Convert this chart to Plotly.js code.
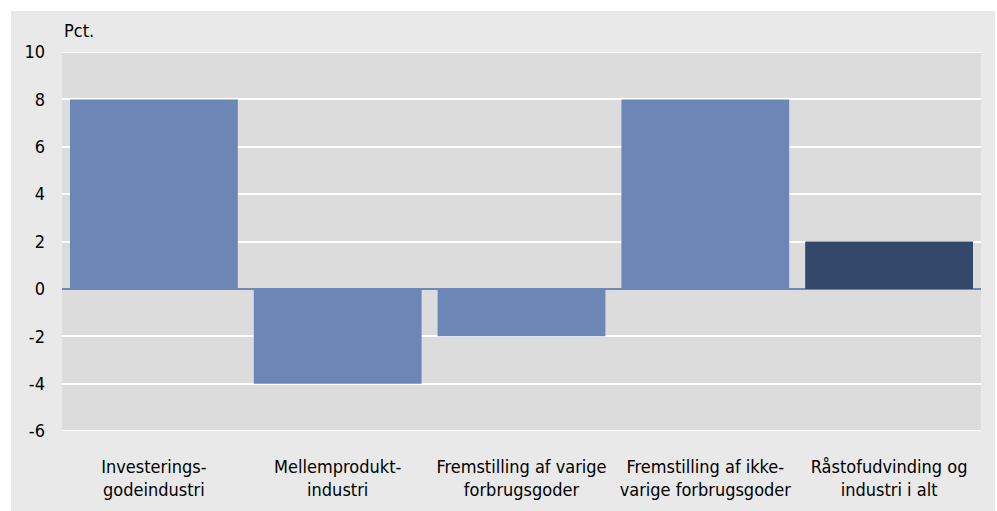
<!DOCTYPE html>
<html><head><meta charset="utf-8">
<script src="https://cdn.plot.ly/plotly-3.0.1.min.js"></script>
<style>html,body{margin:0;padding:0;background:#fff;}</style>
</head><body><div id="chart" style="width:997px;height:511px;"></div>
<script>
var categories = ["Investerings-<br>godeindustri", "Mellemprodukt-<br>industri", "Fremstilling af varige<br>forbrugsgoder", "Fremstilling af ikke-<br>varige forbrugsgoder", "Råstofudvinding og<br>industri i alt"];
var values = [8, -4, -2, 8, 2];
var barColors = ["#6c87b6", "#6c87b6", "#6c87b6", "#6c87b6", "#34486b"];
var yTicks = [-6, -4, -2, 0, 2, 4, 6, 8, 10];

var font = {family: "DejaVu Sans Condensed, Liberation Sans Narrow, sans-serif", size: 18, color: "#000"};
var L = 62, R = 16, T = 52, B = 80, W = 997, H = 511;
var pw = W - L - R, ph = H - T - B;
function py(p) { return (H - B - p) / ph; }
function px(p) { return (p - L) / pw; }

Plotly.newPlot("chart", [{
  type: "bar", x: categories, y: values,
  marker: {color: barColors, line: {width: 0}},
  hoverinfo: "none"
}], {
  width: W, height: H,
  margin: {l: L, r: R, t: T, b: B, pad: 0},
  paper_bgcolor: "#ffffff",
  plot_bgcolor: "#dcdcdc",
  bargap: 0.087,
  showlegend: false,
  font: font,
  xaxis: {showgrid: false, zeroline: false, showline: false, ticks: "", tickfont: font, automargin: false, fixedrange: true, ticklabelstandoff: 23},
  yaxis: {range: [-6, 10], tickvals: yTicks, ticktext: yTicks.map(String), showgrid: true, gridcolor: "#ffffff", gridwidth: 2,
          zeroline: true, zerolinecolor: "#7088b5", zerolinewidth: 1.5, showline: false, ticks: "", ticklabelstandoff: 16,
          tickfont: font, automargin: false, fixedrange: true},
  shapes: [
    {type: "rect", xref: "paper", yref: "paper", layer: "below",
     x0: px(11), x1: px(995), y0: py(511), y1: py(11), fillcolor: "#e9e9e9", line: {width: 0}},
    {type: "rect", xref: "paper", yref: "paper", layer: "below",
     x0: 0, x1: 1, y0: 0, y1: 1, fillcolor: "#dcdcdc", line: {width: 0}},
    {type: "line", xref: "paper", yref: "y", layer: "below", x0: 0, x1: 1, y0: yTicks[yTicks.length - 1], y1: yTicks[yTicks.length - 1],
     line: {color: "#ffffff", width: 2}},
    {type: "line", xref: "paper", yref: "y", layer: "below", x0: 0, x1: 1, y0: yTicks[0], y1: yTicks[0],
     line: {color: "#ffffff", width: 2}}
  ],
  annotations: [{text: "Pct.", xref: "paper", yref: "paper", x: 0, y: py(30), xanchor: "left", yanchor: "middle",
                 showarrow: false, font: font}]
}, {displayModeBar: false, staticPlot: true});
</script></body></html>
